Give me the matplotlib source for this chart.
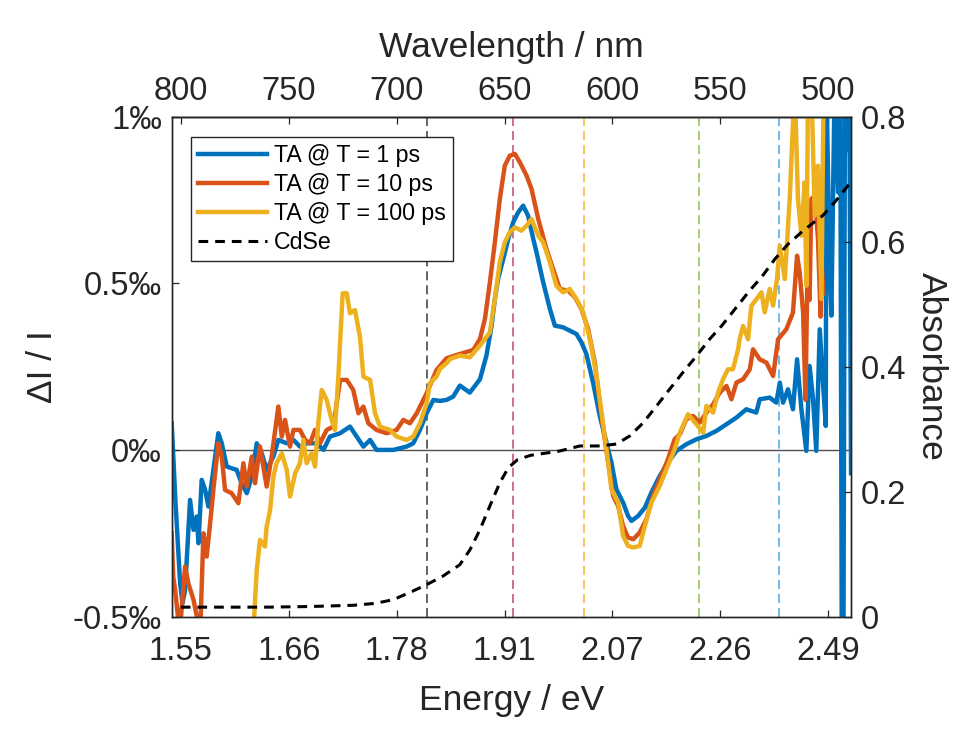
import matplotlib
matplotlib.use('Agg')
import matplotlib.pyplot as plt

plt.rcParams['font.family'] = ['Liberation Sans', 'DejaVu Sans']
plt.rcParams['lines.scale_dashes'] = False

# ---------------- data ----------------
wl_1ps = [804.2, 802.5, 800.3, 799.2, 798.0, 795.7, 794.1, 792.6, 791.8, 790.3, 788.7, 787.2,
          784.9, 782.6, 781.0, 778.7, 774.1, 771.8, 769.4, 767.1, 764.8, 762.5, 760.2, 757.1,
          754.8, 750.9, 747.8, 744.8, 741.7, 737.0, 733.9, 730.9, 726.2, 721.6, 718.5, 715.4,
          712.3, 709.3, 701.5, 695.4, 692.3, 689.2, 686.1, 683.0, 680.0, 676.9, 673.8, 670.7,
          666.1, 661.4, 658.4, 656.0, 654.5, 653.0, 650.6, 648.3, 646.0, 643.7, 641.4, 639.1,
          636.7, 635.2, 632.1, 629.0, 626.7, 622.9, 619.8, 616.7, 614.4, 612.1, 609.0, 605.9,
          602.8, 600.5, 598.2, 595.1, 592.8, 591.2, 588.1, 585.0, 582.0, 578.1, 574.3, 570.4,
          565.8, 561.1, 556.5, 551.9, 547.2, 542.6, 538.0, 533.4, 531.8, 527.2, 524.1, 522.5,
          521.0, 518.7, 516.4, 514.5, 512.5, 510.2, 508.7, 507.1, 505.6, 504.0, 502.5, 501.2,
          500.9, 499.4, 498.6, 497.1, 495.5, 494.5, 493.8, 493.0, 492.3, 491.0, 490.3, 489.5]
ta_1ps = [0.08, -0.15, -0.40, -0.46, -0.42, -0.15, -0.24, -0.20, -0.28, -0.09, -0.12, -0.17,
          -0.06, 0.05, 0.02, -0.05, -0.06, -0.10, -0.13, -0.08, 0.02, -0.01, -0.06, -0.02,
          0.03, 0.02, 0.03, 0.01, 0.02, 0.02, 0.00, 0.04, 0.05, 0.07, 0.04, 0.01,
          0.03, 0.00, 0.00, 0.01, 0.02, 0.06, 0.11, 0.15, 0.147, 0.15, 0.16, 0.193,
          0.172, 0.212, 0.283, 0.373, 0.453, 0.513, 0.573, 0.633, 0.683, 0.713, 0.733, 0.703,
          0.633, 0.593, 0.503, 0.423, 0.373, 0.368, 0.358, 0.348, 0.323, 0.288, 0.202, 0.102,
          0.022, -0.038, -0.118, -0.158, -0.198, -0.213, -0.198, -0.173, -0.128, -0.078, -0.038, -0.003,
          0.017, 0.032, 0.042, 0.057, 0.077, 0.097, 0.122, 0.112, 0.152, 0.157, 0.142, 0.202,
          0.142, 0.182, 0.122, 0.272, 0.122, -0.003, 0.252, 0.152, -0.003, 0.362, 0.202, 0.072,
          1.1, 0.553, 0.403, 1.1, 0.773, 1.1, -0.55, -0.55, 1.1, 0.9, 1.1, -0.07]

wl_10ps = [804.2, 803.5, 802.6, 800.5, 798.0, 796.5, 794.1, 791.0, 789.5, 788.0, 786.4, 784.9,
           782.6, 781.0, 779.5, 776.4, 773.3, 771.0, 769.4, 767.1, 765.6, 763.3, 760.2, 757.9,
           754.8, 753.2, 751.7, 749.4, 747.8, 744.8, 742.4, 740.1, 737.8, 735.5, 732.4, 729.3,
           726.2, 723.1, 720.1, 717.7, 715.4, 713.1, 709.3, 704.6, 700.0, 696.9, 693.8, 690.7,
           686.1, 681.5, 676.9, 670.7, 664.5, 661.4, 659.1, 656.8, 654.5, 652.2, 649.9, 647.6,
           645.2, 642.9, 639.8, 637.5, 634.4, 630.6, 627.5, 624.4, 620.5, 617.4, 614.4, 611.3,
           608.2, 605.9, 603.6, 601.3, 599.7, 597.4, 595.1, 592.8, 590.4, 587.4, 584.3, 581.2,
           578.1, 574.3, 571.2, 568.8, 565.8, 562.7, 559.6, 556.5, 553.4, 550.3, 547.2, 544.9,
           542.6, 539.5, 536.4, 534.9, 531.8, 528.7, 525.6, 523.3, 519.5, 516.4, 514.5, 513.3,
           511.7, 510.6, 509.8, 508.7, 507.9, 506.3, 504.8, 503.6, 503.0, 502.3]
ta_10ps = [-0.25, -0.38, -0.42, -0.55, -0.35, -0.40, -0.45, -0.55, -0.25, -0.32, -0.22, -0.12,
           0.02, -0.02, -0.12, -0.13, -0.16, -0.04, -0.11, -0.02, -0.10, 0.01, -0.11, -0.02,
           0.13, 0.04, 0.09, 0.01, 0.06, 0.06, 0.03, 0.02, 0.06, 0.02, 0.06, 0.07,
           0.21, 0.21, 0.18, 0.11, 0.13, 0.08, 0.06, 0.05, 0.06, 0.09, 0.08, 0.11,
           0.17, 0.24, 0.275, 0.288, 0.30, 0.333, 0.393, 0.503, 0.623, 0.753, 0.853, 0.883,
           0.888, 0.863, 0.823, 0.783, 0.693, 0.603, 0.543, 0.483, 0.478, 0.458, 0.423, 0.363,
           0.262, 0.142, 0.032, -0.068, -0.138, -0.168, -0.228, -0.263, -0.268, -0.248, -0.208, -0.138,
           -0.088, -0.028, 0.032, 0.047, 0.092, 0.102, 0.082, 0.112, 0.137, 0.172, 0.192, 0.152,
           0.202, 0.212, 0.242, 0.302, 0.272, 0.262, 0.222, 0.332, 0.362, 0.412, 0.583, 0.533,
           0.413, 0.15, 0.49, 0.45, 0.753, 0.763, 0.633, 0.40, 0.55, 0.47]

wl_100ps = [766.4, 764.8, 763.3, 761.0, 760.2, 758.6, 757.1, 755.6, 753.2, 750.9, 749.4, 747.0,
            744.8, 743.2, 741.7, 739.4, 737.8, 736.3, 734.7, 732.4, 730.1, 728.6, 727.0, 725.0,
            723.1, 721.6, 719.3, 717.0, 715.4, 712.3, 710.0, 707.7, 703.1, 700.0, 695.4, 692.3,
            689.2, 686.1, 684.6, 681.5, 680.0, 676.9, 675.3, 670.7, 666.1, 661.4, 656.8, 654.5,
            652.2, 649.9, 647.6, 645.2, 642.2, 639.8, 637.5, 634.4, 632.1, 629.0, 626.0, 622.9,
            619.8, 616.7, 613.6, 610.5, 607.4, 605.9, 602.8, 600.5, 597.4, 595.1, 592.8, 590.4,
            587.4, 585.0, 582.0, 578.1, 575.0, 571.2, 568.8, 565.0, 561.1, 558.0, 556.5, 553.4,
            551.1, 548.8, 546.5, 544.2, 541.8, 541.1, 539.5, 537.2, 535.7, 533.4, 531.0, 529.5,
            527.2, 525.6, 523.8, 522.5, 520.2, 517.9, 515.6, 514.1, 512.5, 511.0, 510.2, 509.4,
            507.9, 506.3, 504.8, 503.2, 502.2]
ta_100ps = [-0.55, -0.36, -0.27, -0.29, -0.23, -0.18, -0.08, -0.04, -0.01, -0.06, -0.14, -0.07,
            -0.04, 0.03, -0.04, -0.01, -0.05, 0.08, 0.18, 0.15, 0.09, 0.06, 0.22, 0.47,
            0.47, 0.41, 0.42, 0.34, 0.22, 0.21, 0.11, 0.07, 0.06, 0.04, 0.03, 0.04,
            0.08, 0.14, 0.20, 0.22, 0.243, 0.26, 0.273, 0.283, 0.278, 0.313, 0.353, 0.453,
            0.563, 0.623, 0.653, 0.668, 0.658, 0.673, 0.693, 0.643, 0.623, 0.563, 0.493, 0.473,
            0.483, 0.453, 0.413, 0.333, 0.223, 0.152, 0.002, -0.118, -0.158, -0.258, -0.288, -0.293,
            -0.288, -0.228, -0.158, -0.108, -0.058, 0.002, 0.052, 0.107, 0.077, 0.052, 0.132, 0.112,
            0.172, 0.212, 0.242, 0.242, 0.302, 0.333, 0.372, 0.332, 0.432, 0.452, 0.473, 0.413,
            0.483, 0.433, 0.513, 0.613, 0.513, 0.753, 1.1, 0.753, 0.643, 0.803, 0.493, 1.1,
            1.1, 0.703, 0.853, 0.453, 1.1]

cdse_wl = [800.0, 780.0, 760.0, 740.0, 720.0, 710.0, 701.5, 692.3, 686.1, 678.4, 670.7, 666.0,
           661.4, 656.8, 652.2, 648.3, 644.0, 638.0, 630.0, 624.4, 615.1, 605.9, 598.2, 592.0,
           585.8, 579.6, 573.5, 567.3, 561.1, 555.0, 549.5, 542.6, 536.4, 531.0, 524.8, 518.7,
           512.5, 505.6, 502.5, 497.1, 490.1, 489.3]
cdse_abs = [0.015, 0.015, 0.015, 0.016, 0.018, 0.021, 0.027, 0.041, 0.051, 0.065, 0.083, 0.107,
            0.139, 0.177, 0.214, 0.238, 0.251, 0.258, 0.262, 0.265, 0.273, 0.273, 0.276, 0.289,
            0.310, 0.337, 0.364, 0.391, 0.417, 0.444, 0.465, 0.495, 0.522, 0.543, 0.572, 0.596,
            0.615, 0.634, 0.642, 0.663, 0.693, 0.697]

series_labels = ['TA @ T = 1 ps', 'TA @ T = 10 ps', 'TA @ T = 100 ps', 'CdSe']
marker_wl = [686.0, 646.0, 613.0, 560.0, 523.0]
marker_colors = ['#3a3a3a', '#c04a64', '#f2b630', '#8cc152', '#4aa8e0']

wl_ticks = [800, 750, 700, 650, 600, 550, 500]
wl_labels = ['800', '750', '700', '650', '600', '550', '500']
energy_labels = ['1.55', '1.66', '1.78', '1.91', '2.07', '2.26', '2.49']
ta_ticks = [-0.5, 0.0, 0.5, 1.0]
ta_tick_labels = ['-0.5‰', '0‰', '0.5‰', '1‰']
abs_ticks = [0.0, 0.2, 0.4, 0.6, 0.8]
abs_tick_labels = ['0', '0.2', '0.4', '0.6', '0.8']

# ---------------- figure ----------------
TXT = '#262626'
TICK_FS = 23.5
LAB_FS = 25.5
LW = 3.2

fig = plt.figure(figsize=(9.8, 7.35), dpi=100)
ax = fig.add_axes([0.1752, 0.1612, 0.6932, 0.6800])
ax2 = ax.twinx()

ax.axhline(0, color='#505050', lw=1.0, zorder=1)
for w, c in zip(marker_wl, marker_colors):
    ax.axvline(w, color=c, lw=1.1, ls=(0, (6.5, 3.6)), zorder=1.2)

l1, = ax.plot(wl_1ps, ta_1ps, color='#0072BD', lw=LW, zorder=2)
l2, = ax.plot(wl_10ps, ta_10ps, color='#D95319', lw=LW, zorder=2.1)
l3, = ax.plot(wl_100ps, ta_100ps, color='#EDB120', lw=LW, zorder=2.2)
l4, = ax2.plot(cdse_wl, cdse_abs, color='black', lw=2.2, ls=(0, (7, 5)))

ax.set_xlim(804.2, 489.5)
ax.set_ylim(-0.5, 1.0)
ax2.set_ylim(0, 0.8)

ax.set_xticks(wl_ticks)
ax.set_xticklabels(energy_labels)
ax.set_yticks(ta_ticks)
ax.set_yticklabels(ta_tick_labels)
ax2.set_yticks(abs_ticks)
ax2.set_yticklabels(abs_tick_labels)

sec = ax.secondary_xaxis('top')
sec.set_xticks(wl_ticks)
sec.set_xticklabels(wl_labels)

for a in (ax, ax2, sec):
    a.tick_params(direction='in', length=4.7, width=0.9, labelsize=TICK_FS,
                  colors=TXT, pad=7)
ax.tick_params(axis='x', pad=14)
for a in (ax, ax2, sec):
    for s in a.spines.values():
        s.set_color(TXT)
        s.set_linewidth(1.0)

ax.set_xlabel('Energy / eV', fontsize=LAB_FS, color=TXT, labelpad=12)
sec.set_xlabel('Wavelength / nm', fontsize=LAB_FS, color=TXT, labelpad=14)
ax.set_ylabel('ΔI / I', fontsize=LAB_FS, color=TXT, labelpad=10)
ax2.set_ylabel('Absorbance', fontsize=LAB_FS, color=TXT, rotation=270,
               va='bottom', labelpad=6)

leg = ax2.legend([l1, l2, l3, l4], series_labels, loc='upper left',
                 bbox_to_anchor=(0.1946, 0.8132), bbox_transform=fig.transFigure,
                 borderaxespad=0, fontsize=16.7, handlelength=3.0, handletextpad=0.3,
                 borderpad=0.3, labelspacing=0.25, fancybox=False, framealpha=1,
                 edgecolor=TXT)
leg.get_frame().set_linewidth(1.0)

fig.savefig('out.png', dpi=100)
